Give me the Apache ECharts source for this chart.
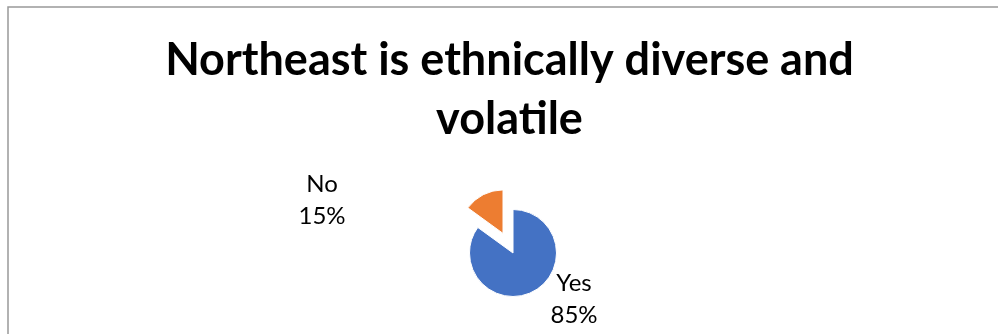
<!DOCTYPE html>
<html>
<head>
<meta charset="utf-8">
<script src="https://cdn.jsdelivr.net/npm/echarts@6/dist/echarts.min.js"></script>
<style>
  html, body { margin: 0; padding: 0; background: #ffffff; }
  #chart { width: 998px; height: 334px; }
</style>
</head>
<body>
<div id="chart"></div>
<script>
// Survey answers and their shares (percent)
const categories = ['Yes', 'No'];
const shares = [85, 15];
const sliceColors = ['#4472C4', '#ED7D31'];
const chartTitle = 'Northeast is ethnically diverse and\nvolatile';

// Label placement relative to the pie centre, per slice
const labelOffsets = [[61, 46], [-191, -53]];

const pieCenter = [513, 253];
const pieRadius = 43.5;

const pieData = categories.map((name, i) => ({
  name: name,
  value: shares[i],
  itemStyle: { color: sliceColors[i] }
}));

const chart = echarts.init(document.getElementById('chart'), null, { renderer: 'canvas' });

chart.setOption({
  backgroundColor: '#ffffff',
  animation: false,
  title: {
    text: chartTitle,
    left: 504.5,
    top: 26,
    textAlign: 'center',
    textStyle: {
      fontFamily: 'Lato',
      fontWeight: 'bold',
      fontSize: 45,
      lineHeight: 59,
      color: '#000000'
    }
  },
  graphic: [{
    type: 'rect',
    silent: true,
    shape: { x: 8, y: 7, width: 1200, height: 600 },
    style: { fill: 'none', stroke: '#999999', lineWidth: 1.5 }
  }],
  series: [
    // Slices, with the "No" slice pulled out of the pie
    {
      type: 'pie',
      center: pieCenter,
      radius: pieRadius,
      startAngle: 90,
      clockwise: true,
      selectedMode: 'multiple',
      selectedOffset: 22,
      itemStyle: { borderColor: '#ffffff', borderWidth: 1 },
      label: { show: false },
      labelLine: { show: false },
      emphasis: { disabled: true },
      data: pieData.map(d => Object.assign({}, d, { selected: d.name === 'No' }))
    },
    // Category / percentage labels
    {
      type: 'pie',
      silent: true,
      center: pieCenter,
      radius: pieRadius,
      startAngle: 90,
      clockwise: true,
      avoidLabelOverlap: false,
      itemStyle: { color: 'rgba(0,0,0,0)', borderWidth: 0 },
      label: {
        show: true,
        position: 'outside',
        formatter: p => p.name + '\n' + p.value + '%',
        fontFamily: 'Lato',
        fontSize: 24,
        lineHeight: 32,
        color: '#000000',
        align: 'center'
      },
      labelLine: { show: false },
      labelLayout: p => {
        const off = labelOffsets[p.dataIndex];
        return {
          x: pieCenter[0] + off[0],
          y: pieCenter[1] + off[1],
          align: 'center',
          verticalAlign: 'middle'
        };
      },
      emphasis: { disabled: true },
      data: pieData.map(d => ({ name: d.name, value: d.value }))
    }
  ]
});
</script>
</body>
</html>
